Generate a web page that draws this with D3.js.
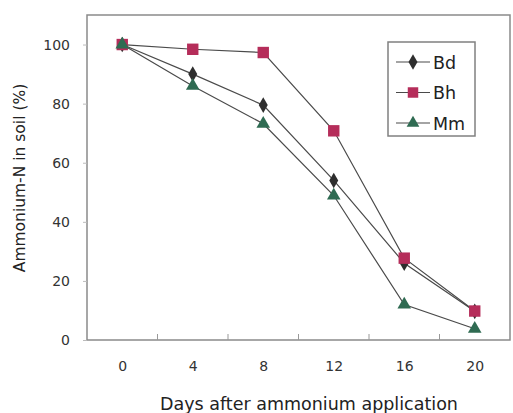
<!DOCTYPE html>
<html><head><meta charset="utf-8">
<script src="https://cdn.jsdelivr.net/npm/d3@7"></script>
<style>body{margin:0;background:#fff}svg{display:block}</style>
</head><body><svg id="c" width="513" height="413"></svg>
<script>
const days = [0, 4, 8, 12, 16, 20];
const bd = [100, 90, 79.5, 54, 26, 9.7];
const bh = [100, 98.4, 97.3, 70.8, 27.7, 9.8];
const mm = [100, 86, 73.2, 48.9, 12, 3.8];
const yTicks = [0, 20, 40, 60, 80, 100];
const seriesNames = ["Bd", "Bh", "Mm"];
const seriesColors = ["#2e2e2e", "#b52d5a", "#2f6b52"];
const seriesShapes = [d3.symbolDiamond, d3.symbolSquare, d3.symbolTriangle];

const svg = d3.select("#c");
const L = 87, R = 510, T = 15, B = 340;
const x = d3.scalePoint().domain(days).range([L, R]).padding(0.5);
const y = d3.scaleLinear().domain([0, 110]).range([B, T]);
const font = "'DejaVu Sans', Verdana, sans-serif";

// box
svg.append("rect").attr("x", L).attr("y", T).attr("width", R - L).attr("height", B - T)
  .attr("fill", "#fff").attr("stroke", "#8a8a8a").attr("stroke-width", 1.5);

// y axis
const ya = svg.append("g").attr("transform", `translate(${L},0)`)
  .call(d3.axisLeft(y).tickValues(yTicks).tickSize(4).tickPadding(13));
ya.select(".domain").remove();
ya.selectAll("line").attr("stroke", "#bbb");
ya.selectAll("text").attr("font-family", font).attr("font-size", 14).attr("fill", "#333");

// x axis labels
const xa = svg.append("g").attr("transform", `translate(0,${B})`)
  .call(d3.axisBottom(x).tickSize(0).tickPadding(21));
xa.select(".domain").remove();
xa.selectAll("text").attr("font-family", font).attr("font-size", 14).attr("fill", "#333");
// boundary ticks between categories
const step = x.step();
svg.append("g").selectAll("line").data(days.slice(1)).join("line")
  .attr("x1", d => x(d) - step / 2).attr("x2", d => x(d) - step / 2)
  .attr("y1", B).attr("y2", B - 6).attr("stroke", "#999").attr("stroke-width", 1);

// titles
svg.append("text").attr("x", 309).attr("y", 410).attr("text-anchor", "middle")
  .attr("font-family", font).attr("font-size", 17.5).attr("fill", "#222")
  .text("Days after ammonium application");
svg.append("text").attr("transform", "translate(25,178) rotate(-90)").attr("text-anchor", "middle")
  .attr("font-family", font).attr("font-size", 15.5).attr("fill", "#222")
  .text("Ammonium-N in soil (%)");

// series
const all = [bd, bh, mm];
const line = d3.line().x((d, i) => x(days[i])).y(d => y(d));
all.forEach((vals, k) => {
  svg.append("path").datum(vals).attr("d", line).attr("fill", "none")
    .attr("stroke", "#4a4a4a").attr("stroke-width", 1.2);
});
all.forEach((vals, k) => {
  const sym = d3.symbol().type(seriesShapes[k]).size(k === 1 ? 130 : (k === 0 ? 70 : 80));
  svg.append("g").selectAll("path").data(vals).join("path")
    .attr("transform", (d, i) => `translate(${x(days[i])},${y(d)})`)
    .attr("d", sym).attr("fill", seriesColors[k]);
});

// legend
const lg = svg.append("g");
lg.append("rect").attr("x", 388).attr("y", 42).attr("width", 87).attr("height", 94)
  .attr("fill", "#fff").attr("stroke", "#808080").attr("stroke-width", 1.5);
seriesNames.forEach((n, k) => {
  const cy = 62 + k * 30.5;
  lg.append("line").attr("x1", 396).attr("x2", 430).attr("y1", cy).attr("y2", cy)
    .attr("stroke", "#4a4a4a").attr("stroke-width", 1.2);
  lg.append("path").attr("transform", `translate(413,${cy})`)
    .attr("d", d3.symbol().type(seriesShapes[k]).size(k === 1 ? 110 : 70)).attr("fill", seriesColors[k]);
  lg.append("text").attr("x", 433).attr("y", cy + 6.5).attr("font-family", font)
    .attr("font-size", 17.5).attr("fill", "#222").text(n);
});
</script></body></html>
